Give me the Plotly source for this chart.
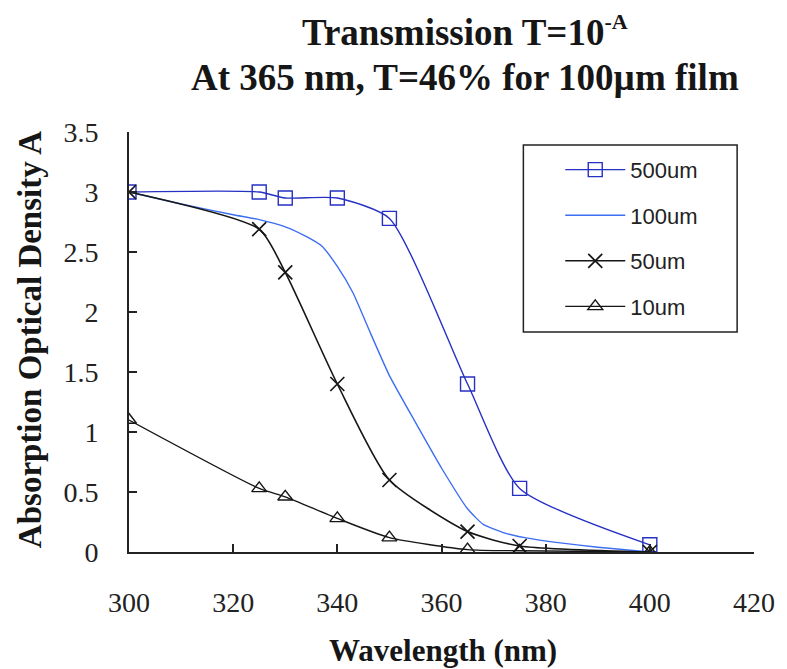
import plotly.graph_objects as go

# Data
wl_500 = [300, 325, 330, 340, 350, 365, 375, 400]
a_500 = [3.0, 3.0, 2.95, 2.95, 2.78, 1.40, 0.53, 0.06]

wl_100 = [300, 310, 320, 325, 330, 334, 337, 340, 343, 346, 350, 355, 360, 365, 368, 372, 376, 382, 390, 400]
a_100 = [3.0, 2.9, 2.81, 2.77, 2.71, 2.63, 2.55, 2.38, 2.16, 1.86, 1.47, 1.08, 0.70, 0.36, 0.23, 0.16, 0.12, 0.08, 0.04, 0.0]

wl_50 = [300, 325, 330, 340, 350, 365, 375, 400]
a_50 = [3.0, 2.69, 2.33, 1.40, 0.60, 0.17, 0.05, 0.0]

wl_10 = [300, 325, 330, 340, 350, 365, 375, 400]
a_10 = [1.10, 0.53, 0.46, 0.28, 0.12, 0.02, 0.01, 0.0]

x_ticks = [300, 320, 340, 360, 380, 400, 420]
y_ticks = [0, 0.5, 1, 1.5, 2, 2.5, 3, 3.5]
y_ticklabels = ["0", "0.5", "1", "1.5", "2", "2.5", "3", "3.5"]

serif = "Liberation Serif, Times New Roman, serif"
sans = "Liberation Sans, Arial, sans-serif"
ink = "#161616"

fig = go.Figure()
fig.add_trace(go.Scatter(
    x=wl_500, y=a_500, name="500um", mode="lines+markers",
    line=dict(color="#2630c4", width=1.4, shape="spline", smoothing=0.6),
    marker=dict(symbol="square-open", size=14, color="#2630c4", line=dict(width=1.4)),
    legendgroup="a"))
fig.add_trace(go.Scatter(
    x=wl_100, y=a_100, name="100um", mode="lines",
    line=dict(color="#3d6ef2", width=1.4, shape="spline", smoothing=0.5),
    legendgroup="b"))
fig.add_trace(go.Scatter(
    x=wl_50, y=a_50, name="50um", mode="lines+markers",
    line=dict(color=ink, width=1.6, shape="spline", smoothing=0.6),
    marker=dict(symbol="x-thin-open", size=14, color=ink, line=dict(width=1.7, color=ink)),
    legendgroup="c"))
fig.add_trace(go.Scatter(
    x=wl_10, y=a_10, name="10um", mode="lines+markers",
    line=dict(color=ink, width=1.4, shape="spline", smoothing=0.6),
    marker=dict(symbol="triangle-up-open", size=13, color=ink, line=dict(width=1.4)),
    legendgroup="d"))

title_font = dict(family=serif, size=37, color=ink, weight="bold")

fig.update_layout(
    width=779, height=661,
    paper_bgcolor="white", plot_bgcolor="white",
    margin=dict(l=121, r=30, t=124, b=117),
    showlegend=True,
    legend=dict(
        x=0.69, y=0.96, xanchor="left", yanchor="top",
        borderwidth=0, bgcolor="rgba(0,0,0,0)",
        font=dict(family=sans, size=22, color="#222222"),
        tracegroupgap=14, traceorder="grouped",
        itemwidth=60),
    xaxis=dict(
        range=[300, 420], tickvals=x_ticks, ticktext=[str(v) for v in x_ticks],
        showgrid=False, zeroline=False, showline=True, linecolor="#222222", linewidth=2,
        ticks="inside", ticklen=8, tickwidth=2, tickcolor="#222222",
        ticklabelstandoff=24,
        tickfont=dict(family=serif, size=28, color="#222222")),
    yaxis=dict(
        range=[0, 3.5], tickvals=y_ticks, ticktext=y_ticklabels,
        showgrid=False, zeroline=False, showline=True, linecolor="#222222", linewidth=2,
        ticks="inside", ticklen=8, tickwidth=2, tickcolor="#222222",
        ticklabelstandoff=23,
        tickfont=dict(family=serif, size=28, color="#222222")),
    shapes=[dict(type="rect", xref="paper", yref="paper",
                 x0=0.631, x1=0.973, y0=0.524, y1=0.969,
                 line=dict(color="#222222", width=1.5), fillcolor="rgba(0,0,0,0)", layer="below")],
    annotations=[
        dict(text="Transmission T=10<sup><span style='font-size:22px'>-A</span></sup>",
             xref="paper", yref="paper",
             x=0.537, y=1.24, xanchor="center", yanchor="middle", showarrow=False, font=title_font),
        dict(text="At 365 nm, T=46% for 100µm film", xref="paper", yref="paper",
             x=0.537, y=1.129, xanchor="center", yanchor="middle", showarrow=False, font=title_font),
        dict(text="Wavelength (nm)", xref="paper", yref="paper",
             x=0.503, y=-0.235, xanchor="center", yanchor="middle", showarrow=False,
             font=dict(family=serif, size=31, color=ink, weight="bold")),
        dict(text="Absorption Optical Density A", xref="paper", yref="paper",
             x=-0.158, y=0.505, xanchor="center", yanchor="middle", showarrow=False,
             textangle=-90, font=dict(family=serif, size=33, color=ink, weight="bold")),
    ],
)

fig.write_html("out.html")
